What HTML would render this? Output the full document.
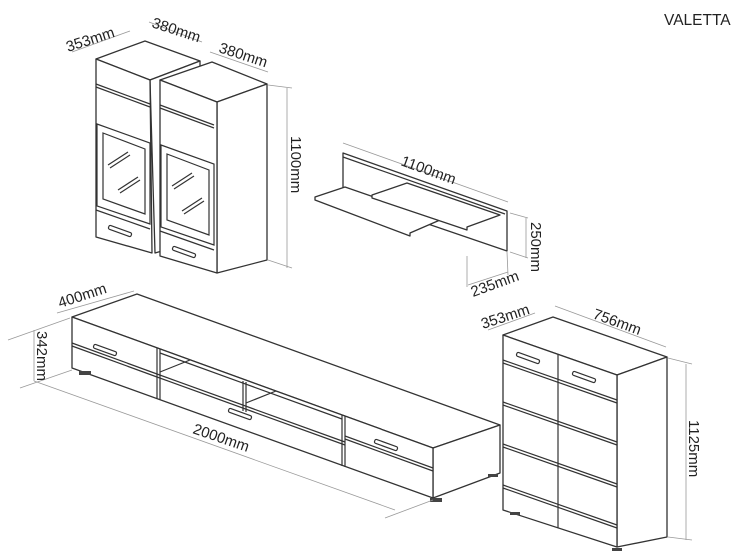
<!DOCTYPE html>
<html><head><meta charset="utf-8"><style>
html,body{margin:0;padding:0;background:#fff;}
svg{display:block}
text{font-family:"Liberation Sans",sans-serif;fill:#222;font-size:15px}
.f{fill:#fff;stroke:#333;stroke-width:1.3;stroke-linejoin:round}
.l{fill:none;stroke:#333;stroke-width:1.2}
.d{fill:none;stroke:#999;stroke-width:0.8}
.h{fill:#fff;stroke:#333;stroke-width:1.2}
</style></head><body>
<svg width="752" height="558" viewBox="0 0 752 558">
<text x="664" y="25" style="font-size:15.5px">VALETTA</text>

<!-- wall cabinet left -->
<polygon class="f" points="96,59 145,41 200,61 150,80"/>
<polygon class="f" points="150,80 200,61 200,240 155,253"/>
<polygon class="f" points="96,59 150,80 152,253 96,237"/>
<line class="l" x1="96" y1="84" x2="150" y2="104"/>
<line class="l" x1="96" y1="87" x2="150" y2="107"/>
<polygon class="l" points="97,124 150,143 150,224 97,206"/>
<polygon class="l" points="103,133 145,149 145,214 103,199"/>
<line class="l" x1="96" y1="210" x2="150" y2="229"/>
<rect class="h" x="108" y="229" width="24" height="4" rx="1.5" transform="rotate(20 120 231)"/>
<line class="l" x1="108" y1="165" x2="128" y2="152"/><line class="l" x1="110" y1="168" x2="130" y2="155"/>
<line class="l" x1="118" y1="190" x2="138" y2="177"/><line class="l" x1="120" y1="193" x2="140" y2="180"/>
<!-- wall cabinet right -->
<polygon class="f" points="160,80 212,62 267,84 217,102"/>
<polygon class="f" points="217,102 267,84 267,260 217,273"/>
<polygon class="f" points="160,80 217,102 217,273 160,256"/>
<g transform="translate(64,21)">
<line class="l" x1="96" y1="84" x2="150" y2="104"/>
<line class="l" x1="96" y1="87" x2="150" y2="107"/>
<polygon class="l" points="97,124 150,143 150,224 97,206"/>
<polygon class="l" points="103,133 145,149 145,214 103,199"/>
<line class="l" x1="96" y1="210" x2="150" y2="229"/>
<rect class="h" x="108" y="229" width="24" height="4" rx="1.5" transform="rotate(20 120 231)"/>
<line class="l" x1="108" y1="165" x2="128" y2="152"/><line class="l" x1="110" y1="168" x2="130" y2="155"/>
<line class="l" x1="118" y1="190" x2="138" y2="177"/><line class="l" x1="120" y1="193" x2="140" y2="180"/>
</g>
<!-- dims wall cab -->
<line class="d" x1="72" y1="52" x2="130" y2="31"/>
<line class="d" x1="149" y1="22" x2="202" y2="42"/>
<line class="d" x1="210" y1="52" x2="268" y2="72"/>
<line class="d" x1="287" y1="88" x2="287" y2="268"/>
<line class="d" x1="268" y1="85" x2="292" y2="88"/>
<line class="d" x1="268" y1="260" x2="292" y2="268"/>
<text x="68" y="52" transform="rotate(-18 68 52)">353mm</text>
<text x="151" y="27" transform="rotate(18 151 27)">380mm</text>
<text x="218" y="52" transform="rotate(18 218 52)">380mm</text>
<text x="291" y="136" transform="rotate(90 291 136)">1100mm</text>

<!-- shelf -->
<polygon class="f" points="343,153 507,211 507,251 343,195"/>
<line class="l" x1="343" y1="157" x2="505" y2="214"/>
<polygon class="f" points="315,197 345,187 440,220 410,233 410,236 315,200"/>
<polygon class="f" points="372,195 407,183 500,215 467,227 467,230 372,198"/>
<line class="d" x1="343" y1="143" x2="508" y2="202"/>
<line class="d" x1="510" y1="213" x2="528" y2="218"/><line class="d" x1="510" y1="252" x2="528" y2="258"/>
<line class="d" x1="526" y1="218" x2="526" y2="258"/>
<line class="d" x1="467" y1="256" x2="467" y2="287"/>
<line class="d" x1="468" y1="285" x2="508" y2="272"/>
<line class="d" x1="507" y1="252" x2="508" y2="275"/>
<text x="400" y="165" transform="rotate(20 400 165)">1100mm</text>
<text x="531" y="222" transform="rotate(90 531 222)">250mm</text>
<text x="473" y="297" transform="rotate(-20 473 297)">235mm</text>

<!-- TV stand -->
<polygon class="f" points="72,317 137,294 500,425 433,448"/>
<polygon class="f" points="433,448 500,425 500,473 433,498"/>
<polygon class="f" points="72,317 433,448 433,498 72,368"/>
<line class="l" x1="72" y1="343" x2="157" y2="374"/><line class="l" x1="72" y1="346" x2="157" y2="377"/>
<line class="l" x1="345" y1="436" x2="433" y2="468"/><line class="l" x1="345" y1="439" x2="433" y2="471"/>
<line class="l" x1="157" y1="348" x2="157" y2="399"/>
<line class="l" x1="160" y1="349" x2="160" y2="400"/>
<line class="l" x1="345" y1="416" x2="345" y2="467"/>
<line class="l" x1="342" y1="415" x2="342" y2="466"/>
<line class="l" x1="160" y1="353" x2="342" y2="419"/>
<line class="l" x1="157" y1="374" x2="345" y2="442"/><line class="l" x1="157" y1="377" x2="345" y2="445"/>
<line class="l" x1="243" y1="381" x2="243" y2="411"/><line class="l" x1="246" y1="382" x2="246" y2="412"/>
<line class="l" x1="160" y1="372" x2="190" y2="360"/>
<line class="l" x1="246" y1="403" x2="276" y2="391"/>
<rect class="h" x="93" y="348" width="24" height="4" rx="1.5" transform="rotate(20 105 350)"/>
<rect class="h" x="228" y="412" width="24" height="4" rx="1.5" transform="rotate(20 240 414)"/>
<rect class="h" x="374" y="443" width="24" height="4" rx="1.5" transform="rotate(20 386 445)"/>
<rect x="79" y="371" width="12" height="4" fill="#444"/>
<rect x="430" y="498" width="12" height="4" fill="#444"/>
<rect x="488" y="474" width="10" height="3" fill="#444"/>
<line class="d" x1="57" y1="313" x2="134" y2="291"/>
<line class="d" x1="34" y1="330" x2="34" y2="381"/>
<line class="d" x1="8" y1="340" x2="70" y2="318"/><line class="d" x1="20" y1="388" x2="72" y2="370"/>
<line class="d" x1="34" y1="381" x2="395" y2="510"/>
<line class="d" x1="385" y1="518" x2="433" y2="500"/>
<text x="60" y="308" transform="rotate(-18 60 308)">400mm</text>
<text x="37" y="331" transform="rotate(90 37 331)">342mm</text>
<text x="192" y="433" transform="rotate(19 192 433)">2000mm</text>

<!-- chest -->
<polygon class="f" points="503,335 553,317 667,357 617,375"/>
<polygon class="f" points="617,375 667,357 667,537 617,547"/>
<polygon class="f" points="503,335 617,375 617,547 503,510"/>
<line class="l" x1="558" y1="354" x2="558" y2="528"/>
<line class="l" x1="503" y1="360" x2="617" y2="400"/><line class="l" x1="503" y1="363" x2="617" y2="403"/>
<line class="l" x1="503" y1="402" x2="617" y2="442"/><line class="l" x1="503" y1="405" x2="617" y2="445"/>
<line class="l" x1="503" y1="444" x2="617" y2="484"/><line class="l" x1="503" y1="447" x2="617" y2="487"/>
<line class="l" x1="503" y1="485" x2="617" y2="525"/><line class="l" x1="503" y1="488" x2="617" y2="528"/>
<rect class="h" x="516" y="356" width="24" height="4" rx="1.5" transform="rotate(20 528 358)"/>
<rect class="h" x="572" y="375" width="24" height="4" rx="1.5" transform="rotate(20 584 377)"/>
<rect x="510" y="512" width="10" height="3" fill="#444"/>
<rect x="612" y="548" width="10" height="3" fill="#444"/>
<line class="d" x1="488" y1="330" x2="535" y2="313"/>
<line class="d" x1="555" y1="306" x2="666" y2="347"/>
<line class="d" x1="686" y1="364" x2="686" y2="540"/>
<line class="d" x1="668" y1="358" x2="692" y2="364"/><line class="d" x1="668" y1="537" x2="692" y2="540"/>
<text x="483" y="329" transform="rotate(-18 483 329)">353mm</text>
<text x="592" y="318" transform="rotate(20 592 318)">756mm</text>
<text x="689" y="420" transform="rotate(90 689 420)">1125mm</text>
</svg>
</body></html>
